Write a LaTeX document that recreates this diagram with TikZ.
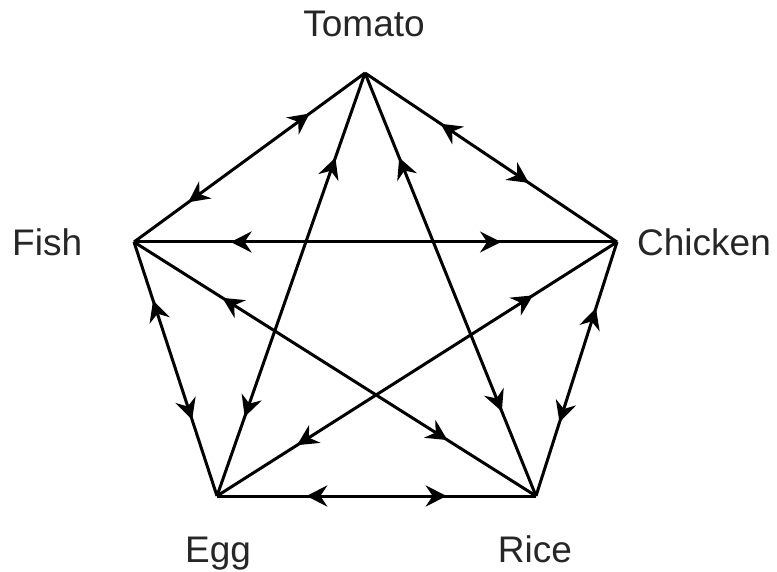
\documentclass[tikz,border=0pt]{standalone}
\usepackage{fontspec}
\setmainfont{Liberation Sans}
\usetikzlibrary{arrows.meta,decorations.markings}
\tikzset{
  tipA/.tip={Stealth[length=21pt,width=21pt,inset=7pt]},
  edge/.style={line width=3pt},
  bi/.style 2 args={edge,postaction={decorate,decoration={markings,
      mark=at position #1 with {\arrowreversed{tipA}},
      mark=at position #2 with {\arrow{tipA}}}}},
  lbl/.style={font=\fontsize{37}{44}\selectfont, inner sep=0pt, text=black!85}
}
\begin{document}
\begin{tikzpicture}[x=1pt,y=1pt]
\useasboundingbox (0,0) rectangle (777,571);
% vertices (y = 571 - pixel y)
\coordinate (T) at (365,498);
\coordinate (C) at (617,329);
\coordinate (R) at (536,75);
\coordinate (E) at (217,75);
\coordinate (F) at (134,329);
% labels
\node[lbl, anchor=base] (lT) at (364,534) {Tomato};
\node[lbl, anchor=base west] (lF) at (12,315) {Fish};
\node[lbl, anchor=base west] (lC) at (637,315) {Chicken};
\node[lbl, anchor=base] (lE) at (218,9) {Egg};
\node[lbl, anchor=base] (lR) at (535,9) {Rice};
% pentagon edges
\draw[bi={0.235}{0.76}] (F) -- (T);
\draw[bi={0.30}{0.65}] (T) -- (C);
\draw[bi={0.26}{0.71}] (C) -- (R);
\draw[bi={0.28}{0.72}] (E) -- (R);
\draw[bi={0.23}{0.70}] (F) -- (E);
% star edges
\draw[bi={0.2}{0.76}] (F) -- (C);
\draw[bi={0.2}{0.813}] (T) -- (E);
\draw[bi={0.2}{0.80}] (T) -- (R);
\draw[bi={0.22}{0.78}] (F) -- (R);
\draw[bi={0.2}{0.79}] (E) -- (C);
\end{tikzpicture}
\end{document}
